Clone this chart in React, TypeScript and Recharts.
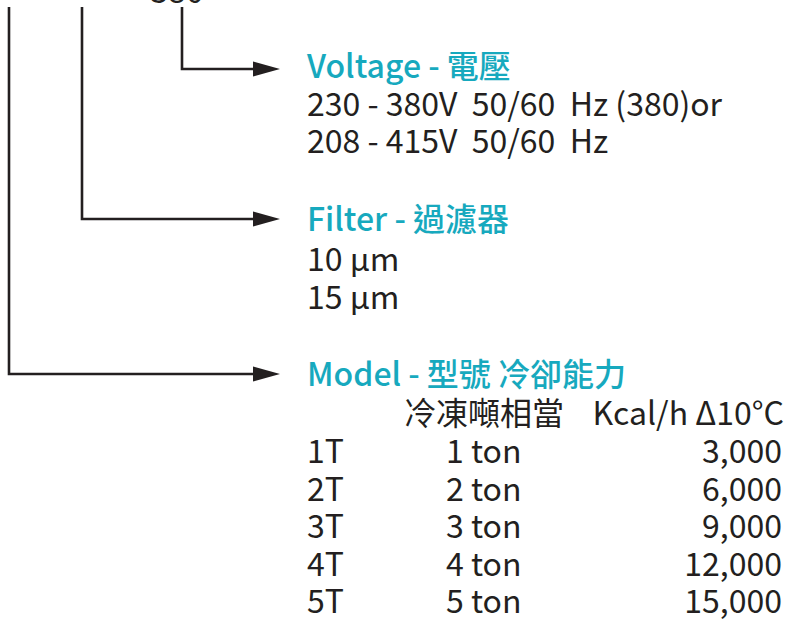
import React from "react";
import { ComposedChart, XAxis, YAxis, Customized } from "recharts";

// ---- content ----
const codeParts = ["380"];
const sectionTitles = ["Voltage", "Filter", "Model"];
const sectionTitlesZh = ["電壓", "過濾器", "型號 冷卻能力"];
const voltageOptions = ["230 - 380V  50/60  Hz (380)or", "208 - 415V  50/60  Hz"];
const filterOptions = ["10 µm", "15 µm"];
const tableHeaders = ["冷凍噸相當", "Kcal/h Δ10°C"];
const models = ["1T", "2T", "3T", "4T", "5T"];
const tons = [1, 2, 3, 4, 5];
const kcalPerHour = [3000, 6000, 9000, 12000, 15000];

const rows = models.map((m, i) => ({ model: m, ton: tons[i], kcal: kcalPerHour[i] }));

// ---- style / layout ----
const W = 786;
const H = 627;
const FONT = "'Noto Sans CJK TC', 'Noto Sans', sans-serif";
const FS = 32;
const TEAL = "#17a9be";
const INK = "#231f20";
const LINE_H = 37.6;

const Diagram = () => {
  const connectorX = [182, 82, 9];
  const connectorY = [69, 219, 374];
  const titleBase = [78, 231, 386];
  const arrowStart = 253;
  const arrowTip = 280;
  const textX = 307;

  const els: React.ReactNode[] = [];

  els.push(
    <text key="code" x={177} y={3} fontFamily={FONT} fontSize={FS} fill={INK} textAnchor="middle">
      {codeParts[0]}
    </text>
  );

  connectorX.forEach((cx, i) => {
    const cy = connectorY[i];
    els.push(
      <path
        key={`c${i}`}
        d={`M${cx},7 L${cx},${cy} L${arrowStart + 2},${cy}`}
        fill="none"
        stroke={INK}
        strokeWidth={2.6}
        strokeLinejoin="miter"
      />
    );
    els.push(
      <path
        key={`a${i}`}
        d={`M${arrowStart},${cy - 7.5} L${arrowTip},${cy} L${arrowStart},${cy + 7.5} Z`}
        fill={INK}
      />
    );
    els.push(
      <text key={`t${i}`} x={textX} y={titleBase[i]} fontFamily={FONT} fontSize={FS} fill={TEAL} fontWeight={500}>
        {`${sectionTitles[i]} - ${sectionTitlesZh[i]}`}
      </text>
    );
  });

  voltageOptions.forEach((v, i) => {
    els.push(
      <text key={`v${i}`} x={textX} y={titleBase[0] + LINE_H * (i + 1)} fontFamily={FONT} fontSize={FS} fill={INK} xmlSpace="preserve" style={{ whiteSpace: "pre" }}>
        {v}
      </text>
    );
  });

  filterOptions.forEach((f, i) => {
    els.push(
      <text key={`f${i}`} x={textX} y={titleBase[1] + 40 + LINE_H * i} fontFamily={FONT} fontSize={FS} fill={INK}>
        {f}
      </text>
    );
  });

  const headerY = titleBase[2] + 39;
  els.push(
    <text key="h0" x={404} y={headerY} fontFamily={FONT} fontSize={FS} fill={INK}>
      {tableHeaders[0]}
    </text>
  );
  els.push(
    <text key="h1" x={784} y={headerY} fontFamily={FONT} fontSize={FS} fill={INK} textAnchor="end">
      {tableHeaders[1]}
    </text>
  );

  rows.forEach((r, i) => {
    const y = headerY + 38 + 37.5 * i;
    els.push(
      <text key={`m${i}`} x={textX} y={y} fontFamily={FONT} fontSize={FS} fill={INK}>
        {r.model}
      </text>
    );
    els.push(
      <text key={`n${i}`} x={446} y={y} fontFamily={FONT} fontSize={FS} fill={INK}>
        {`${r.ton} ton`}
      </text>
    );
    els.push(
      <text key={`k${i}`} x={782} y={y} fontFamily={FONT} fontSize={FS} fill={INK} textAnchor="end">
        {r.kcal.toLocaleString("en-US")}
      </text>
    );
  });

  return <g>{els}</g>;
};

export default function App() {
  return (
    <div style={{ position: "absolute", left: 0, top: 0, width: W, height: H, background: "#fff" }}>
      <ComposedChart width={W} height={H} data={rows} margin={{ top: 0, right: 0, bottom: 0, left: 0 }}>
        <XAxis dataKey="model" hide />
        <YAxis hide />
        <Customized component={Diagram} />
      </ComposedChart>
    </div>
  );
}
